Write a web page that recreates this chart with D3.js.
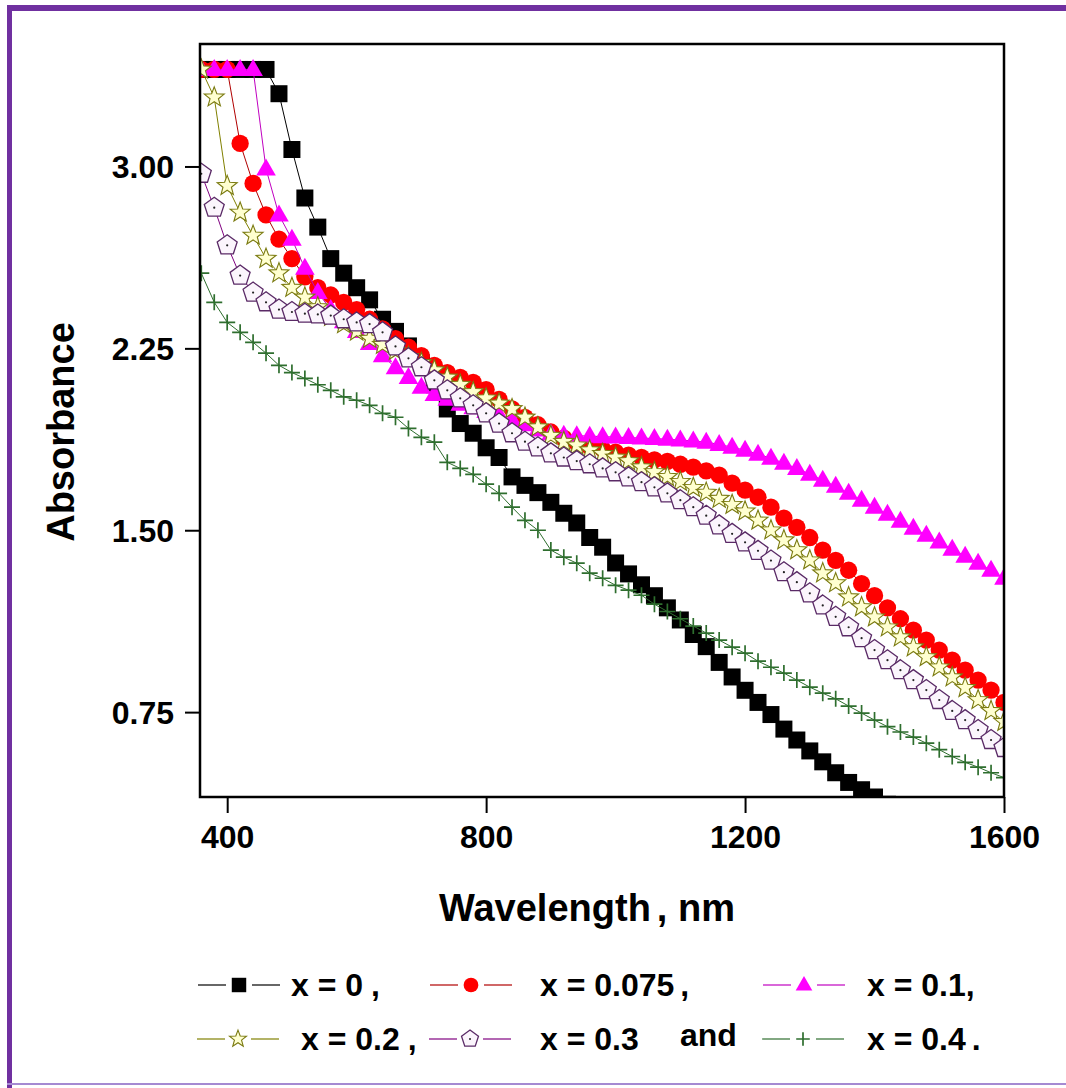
<!DOCTYPE html>
<html>
<head>
<meta charset="utf-8">
<script src="https://cdn.jsdelivr.net/npm/d3@7"></script>
<style>
  html, body { margin: 0; padding: 0; background: #fff; }
  svg { display: block; }
  text { font-family: "Liberation Sans", Arial, sans-serif; font-weight: bold; fill: #000; }
</style>
</head>
<body>
<svg id="chart" width="1066" height="1088"></svg>
<script>
// Wavelength grid (nm)
const wavelengths = [360,380,400,420,440,460,480,500,520,540,560,580,600,620,640,660,680,700,720,740,
  760,780,800,820,840,860,880,900,920,940,960,980,1000,1020,1040,1060,1080,1100,1120,1140,
  1160,1180,1200,1220,1240,1260,1280,1300,1320,1340,1360,1380,1400,1420,1440,1460,1480,1500,
  1520,1540,1560,1580,1600];

// Absorbance for each composition (null = off the scale)
const absX0 = [3.40,3.40,3.40,3.40,3.40,3.40,3.30,3.07,2.87,2.75,2.62,2.56,2.50,2.45,2.37,2.32,2.26,2.19,2.10,2.00,
  1.94,1.90,1.84,1.80,1.72,1.685,1.655,1.615,1.57,1.53,1.47,1.43,1.365,1.32,1.275,1.23,1.18,1.13,1.07,1.02,
  0.955,0.895,0.84,0.79,0.74,0.68,0.635,0.59,0.545,0.50,0.46,0.43,0.40,0.37,0.34,null,null,null,
  null,null,null,null,null];
const absX0075 = [3.40,3.40,3.40,3.095,2.93,2.80,2.70,2.62,2.545,2.50,2.47,2.44,2.41,2.37,2.33,2.29,2.255,2.22,2.18,2.15,
  2.13,2.11,2.08,2.04,2.00,1.965,1.935,1.905,1.88,1.86,1.845,1.835,1.822,1.81,1.80,1.79,1.784,1.772,1.76,1.745,
  1.727,1.694,1.665,1.636,1.595,1.55,1.512,1.47,1.418,1.376,1.335,1.28,1.23,1.18,1.135,1.088,1.047,1.006,
  0.964,0.923,0.882,0.841,0.79];
const absX01 = [3.40,3.40,3.40,3.40,3.40,2.99,2.80,2.70,2.58,2.48,2.41,2.36,2.32,2.27,2.22,2.17,2.13,2.09,2.06,2.04,
  2.02,2.005,1.99,1.975,1.955,1.935,1.913,1.897,1.892,1.89,1.888,1.886,1.884,1.882,1.88,1.878,1.875,1.872,1.868,1.863,
  1.854,1.842,1.83,1.813,1.797,1.776,1.755,1.731,1.706,1.681,1.652,1.624,1.595,1.566,1.537,1.508,1.479,1.451,
  1.422,1.393,1.364,1.335,1.302];
const absX02 = [3.40,3.285,2.92,2.81,2.715,2.62,2.56,2.50,2.46,2.42,2.38,2.35,2.32,2.29,2.265,2.24,2.215,2.19,2.16,2.13,
  2.10,2.07,2.044,2.023,2.00,1.965,1.925,1.89,1.865,1.85,1.83,1.815,1.80,1.785,1.76,1.74,1.72,1.70,1.675,1.655,
  1.63,1.605,1.578,1.54,1.50,1.459,1.418,1.376,1.323,1.282,1.224,1.183,1.141,1.10,1.059,1.018,0.977,0.935,
  0.894,0.85,0.80,0.755,0.71];
const absX03 = [2.97,2.83,2.675,2.55,2.48,2.44,2.41,2.40,2.393,2.39,2.385,2.37,2.357,2.35,2.316,2.258,2.209,2.172,2.118,2.077,
  2.044,2.015,1.982,1.94,1.90,1.865,1.842,1.817,1.80,1.785,1.772,1.755,1.739,1.718,1.698,1.677,1.652,1.624,1.595,1.56,
  1.52,1.485,1.45,1.415,1.375,1.327,1.286,1.24,1.19,1.143,1.10,1.055,1.006,0.964,0.923,0.882,0.841,0.80,
  0.755,0.717,0.676,0.635,0.602];
const absX04 = [2.56,2.44,2.357,2.316,2.275,2.23,2.18,2.15,2.126,2.10,2.077,2.05,2.036,2.015,1.982,1.966,1.92,1.883,1.863,1.78,
  1.755,1.73,1.69,1.652,1.595,1.541,1.50,1.418,1.389,1.364,1.323,1.302,1.273,1.253,1.232,1.195,1.165,1.135,1.105,1.076,
  1.047,1.018,0.993,0.96,0.935,0.911,0.882,0.853,0.828,0.805,0.775,0.746,0.717,0.69,0.668,0.647,0.622,0.595,
  0.567,0.543,0.523,0.50,0.48];

const seriesLabels = ["x = 0", "x = 0.075", "x = 0.1", "x = 0.2", "x = 0.3", "x = 0.4"];
const xTicks = [400, 800, 1200, 1600];
const yTicks = [0.75, 1.50, 2.25, 3.00];

// Marker shapes, scaled by k
function starPath(R, r) {
  const pts = [];
  for (let i = 0; i < 10; i++) {
    const rr = i % 2 === 0 ? R : r;
    const a = -Math.PI / 2 + i * Math.PI / 5;
    pts.push([rr * Math.cos(a), rr * Math.sin(a)]);
  }
  return "M" + pts.map(p => p.join(",")).join("L") + "Z";
}
function pentagonPath(R) {
  const pts = [];
  for (let i = 0; i < 5; i++) {
    const a = -Math.PI / 2 + i * 2 * Math.PI / 5;
    pts.push([R * Math.cos(a), R * Math.sin(a)]);
  }
  return "M" + pts.map(p => p.join(",")).join("L") + "Z";
}
function makeShapes(k) {
  return {
    square: `M${-8.5*k},${-8.5*k}H${8.5*k}V${8.5*k}H${-8.5*k}Z`,
    circle: d3.symbol(d3.symbolCircle, 235 * k * k)(),
    triangle: `M0,${-10.5*k}L${9.8*k},${6.5*k}L${-9.8*k},${6.5*k}Z`,
    star: starPath(10.5 * k, 4.4 * k),
    pentagon: pentagonPath(10.5 * k),
    plus: `M${-8*k},0H${8*k}M0,${-8*k}V${8*k}`
  };
}
const shapes = makeShapes(1);
const legendShapes = makeShapes(0.85);

const series = [
  { label: seriesLabels[0], values: absX0,    shape: "square",   fill: "#000000", stroke: "none",    sw: 0,   line: "#000000", dot: false },
  { label: seriesLabels[1], values: absX0075, shape: "circle",   fill: "#ff0000", stroke: "none",    sw: 0,   line: "#b00000", dot: false },
  { label: seriesLabels[2], values: absX01,   shape: "triangle", fill: "#ff00ff", stroke: "none",    sw: 0,   line: "#c000c0", dot: false },
  { label: seriesLabels[3], values: absX02,   shape: "star",     fill: "#ffffd0", stroke: "#7a7a10", sw: 1.1, line: "#808000", dot: false },
  { label: seriesLabels[4], values: absX03,   shape: "pentagon", fill: "#fbf5fc", stroke: "#5a2a66", sw: 1.3, line: "#800080", dot: true },
  { label: seriesLabels[5], values: absX04,   shape: "plus",     fill: "none",    stroke: "#2e6e2e", sw: 1.7, line: "#2e6e2e", dot: false }
];

const svg = d3.select("#chart");
const W = 1066, H = 1088;
const plot = { left: 200, top: 44, right: 1004, bottom: 797 };

// Page frame
svg.append("rect").attr("x", 0).attr("y", 0).attr("width", W).attr("height", H).attr("fill", "#fff");
svg.append("rect").attr("x", 7).attr("y", 5).attr("width", W - 7).attr("height", 6).attr("fill", "#7030a0");
svg.append("rect").attr("x", 7).attr("y", 5).attr("width", 5).attr("height", H - 5).attr("fill", "#7030a0");
svg.append("rect").attr("x", 7).attr("y", 1083).attr("width", W - 7).attr("height", 2).attr("fill", "#a58ad2");

const x = d3.scaleLinear().domain([358, 1600]).range([plot.left, plot.right]);
const y = d3.scaleLinear().domain([0.40, 3.505]).range([plot.bottom, plot.top]);

svg.append("defs").append("clipPath").attr("id", "plotClip")
  .append("rect").attr("x", plot.left).attr("y", plot.top)
  .attr("width", plot.right - plot.left).attr("height", plot.bottom - plot.top);

const gData = svg.append("g").attr("clip-path", "url(#plotClip)");

const lineGen = d3.line()
  .defined(d => d.v !== null)
  .x(d => x(d.w))
  .y(d => y(d.v));

series.forEach(s => {
  const pts = wavelengths.map((w, i) => ({ w, v: s.values[i] }));
  const g = gData.append("g");
  g.append("path").datum(pts).attr("d", lineGen)
    .attr("fill", "none").attr("stroke", s.line).attr("stroke-width", 1);
  const m = g.selectAll("g.m").data(pts.filter(d => d.v !== null)).join("g")
    .attr("class", "m")
    .attr("transform", d => `translate(${x(d.w)},${y(d.v)})`);
  m.append("path").attr("d", shapes[s.shape])
    .attr("fill", s.fill).attr("stroke", s.stroke).attr("stroke-width", s.sw)
    .attr("stroke-linejoin", "miter");
  if (s.dot) m.append("circle").attr("r", 1.1).attr("fill", "#222");
});

// Plot frame
svg.append("rect").attr("x", plot.left).attr("y", plot.top)
  .attr("width", plot.right - plot.left).attr("height", plot.bottom - plot.top)
  .attr("fill", "none").attr("stroke", "#000").attr("stroke-width", 2.5);

// Axes
const yAxis = d3.axisLeft(y).tickValues(yTicks).tickFormat(d3.format(".2f")).tickSize(15).tickPadding(11);
const gy = svg.append("g").attr("transform", `translate(${plot.left},0)`).call(yAxis);
gy.select(".domain").remove();
gy.selectAll(".tick line").attr("stroke", "#000").attr("stroke-width", 2);
gy.selectAll(".tick text").style("font-size", "32px").attr("dy", "0.36em");

const xAxis = d3.axisBottom(x).tickValues(xTicks).tickFormat(d3.format("d")).tickSize(16).tickPadding(12);
const gx = svg.append("g").attr("transform", `translate(0,${plot.bottom})`).call(xAxis);
gx.select(".domain").remove();
gx.selectAll(".tick line").attr("stroke", "#000").attr("stroke-width", 2);
gx.selectAll(".tick text").style("font-size", "32px");

// Axis titles
svg.append("text").attr("transform", "translate(74,432) rotate(-90)")
  .attr("text-anchor", "middle").style("font-size", "38px").text("Absorbance");
const xt = svg.append("text").attr("x", 587).attr("y", 921)
  .attr("text-anchor", "middle").style("font-size", "38px");
xt.append("tspan").text("Wavelength");
xt.append("tspan").attr("dx", 6).text(",");
xt.append("tspan").text(" nm");

// Legend: two rows of sample marker + label
const legendRows = [985, 1039];
const legendItems = [
  { s: 0, row: 0, cx: 239, tx: 291, tail: ",", gap: 8 },
  { s: 1, row: 0, cx: 471, tx: 540, tail: ",", gap: 6 },
  { s: 2, row: 0, cx: 804, tx: 867, tail: ",", gap: 0 },
  { s: 3, row: 1, cx: 238, tx: 301, tail: ",", gap: 8 },
  { s: 4, row: 1, cx: 470, tx: 540, tail: "",  gap: 0 },
  { s: 5, row: 1, cx: 803, tx: 867, tail: ".", gap: 6 }
];
const gl = svg.append("g");
legendItems.forEach(it => {
  const s = series[it.s];
  const cy = legendRows[it.row];
  gl.append("line").attr("x1", it.cx - 41).attr("x2", it.cx - 13).attr("y1", cy).attr("y2", cy)
    .attr("stroke", s.line).attr("stroke-width", 1.2);
  gl.append("line").attr("x1", it.cx + 13).attr("x2", it.cx + 41).attr("y1", cy).attr("y2", cy)
    .attr("stroke", s.line).attr("stroke-width", 1.2);
  const mk = gl.append("g").attr("transform", `translate(${it.cx},${cy})`);
  mk.append("path").attr("d", legendShapes[s.shape]).attr("fill", s.fill)
    .attr("stroke", s.stroke).attr("stroke-width", s.sw);
  if (s.dot) mk.append("circle").attr("r", 1).attr("fill", "#222");
  const t = gl.append("text").attr("x", it.tx).attr("y", cy + 11).style("font-size", "32px");
  t.append("tspan").text(s.label);
  if (it.tail) t.append("tspan").attr("dx", it.gap).text(it.tail);
});
gl.append("text").attr("x", 680).attr("y", legendRows[1] + 7).style("font-size", "32px").text("and");
</script>
</body>
</html>
